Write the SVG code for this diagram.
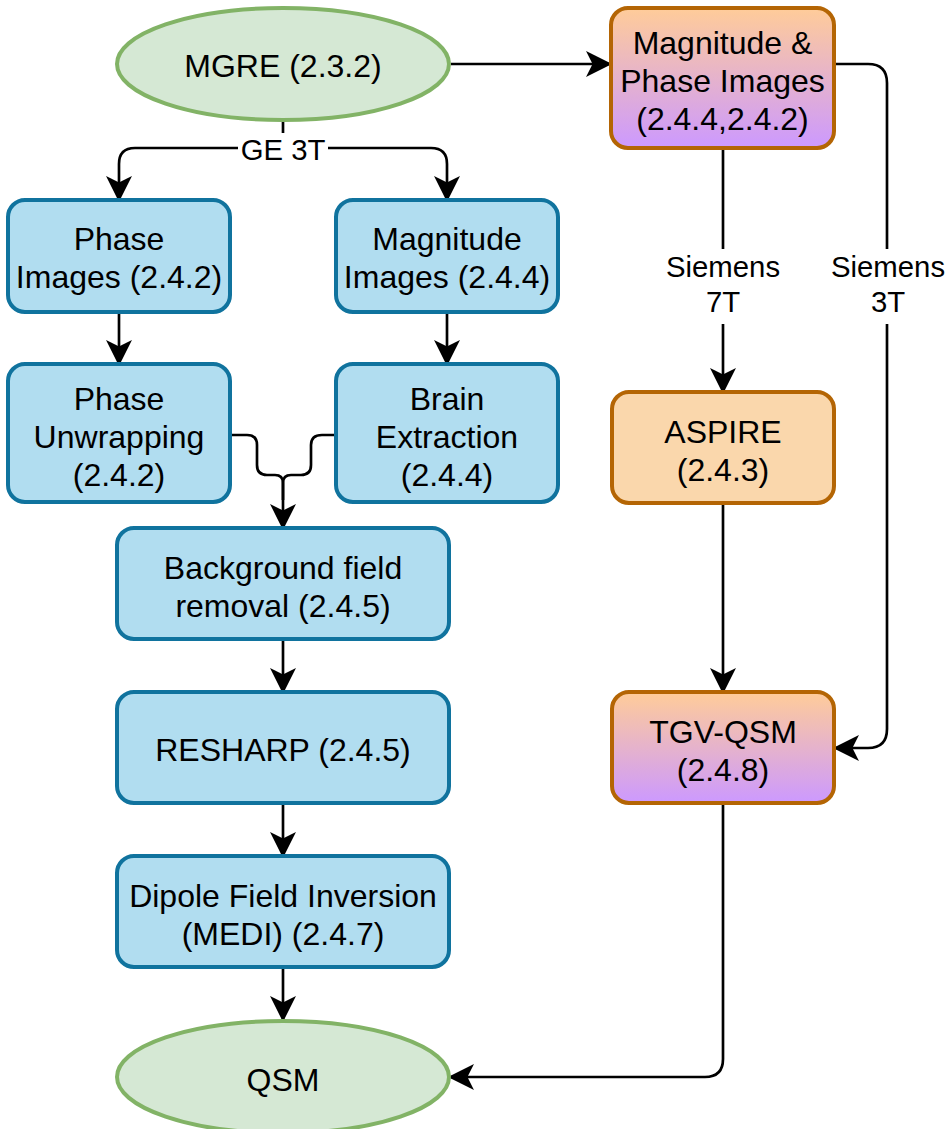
<svg xmlns="http://www.w3.org/2000/svg" width="952" height="1129" viewBox="0 0 952 1129">
  <defs>
    <linearGradient id="peachViolet" x1="0" y1="0" x2="0" y2="1">
      <stop offset="0" stop-color="#ffcc99"/>
      <stop offset="1" stop-color="#cc99ff"/>
    </linearGradient>
    <marker id="arrow" markerUnits="userSpaceOnUse" markerWidth="30" markerHeight="30" refX="22" refY="11" orient="auto" overflow="visible">
      <path d="M22,11 L2,1 L7,11 L2,21 Z" fill="#000" stroke="#000" stroke-width="2.67" stroke-linejoin="miter"/>
    </marker>
    <style>
      .blue { fill: #b1ddf0; stroke: #10739e; stroke-width: 4; }
      .green { fill: #d5e8d4; stroke: #82b366; stroke-width: 4; }
      .orange { fill: #fad7ac; stroke: #b46504; stroke-width: 4; }
      .grad { fill: url(#peachViolet); stroke: #b46504; stroke-width: 4; }
      .t { font-family: "Liberation Sans", Arial, sans-serif; font-size: 32px; fill: #000; text-anchor: middle; }
      .lbl { font-family: "Liberation Sans", Arial, sans-serif; font-size: 29.33px; fill: #000; text-anchor: middle; }
      .edge { fill: none; stroke: #000; stroke-width: 2.67; stroke-linejoin: round; }
      .arrowed { marker-end: url(#arrow); }
    </style>
  </defs>

  <rect width="952" height="1129" fill="#fff"/>

  <!-- connectors -->
  <g id="connectors">
    <path class="edge arrowed" d="M451,64 H609"/>
    <path class="edge arrowed" d="M283,122 V148 H135 Q119,148 119,164 V199"/>
    <path class="edge arrowed" d="M283,148 H431 Q447,148 447,164 V199"/>
    <path class="edge arrowed" d="M119,313 V363"/>
    <path class="edge arrowed" d="M447,313 V363"/>
    <path class="edge" d="M231,435 H247 Q257,435 257,445 V465 Q257,475 267,475 H275 Q283,475 283,483 V500"/>
    <path class="edge arrowed" d="M335,435 H322 Q311,435 311,445 V465 Q311,475 301,475 H291 Q283,475 283,483 V527"/>
    <path class="edge arrowed" d="M283,640 V691"/>
    <path class="edge arrowed" d="M283,804 V855"/>
    <path class="edge arrowed" d="M283,968 V1019"/>
    <path class="edge arrowed" d="M723,149 V391"/>
    <path class="edge arrowed" d="M835,64 H868 Q887,64 887,83 V729 Q887,748 868,748 H836"/>
    <path class="edge arrowed" d="M723,504 V691"/>
    <path class="edge arrowed" d="M723,804 V1059 Q723,1077 705,1077 H451"/>

    <!-- edge labels -->
    <rect x="238" y="133" width="90" height="32" fill="#fff"/>
    <text class="lbl" x="283" y="159.5">GE 3T</text>
    <rect x="662" y="249" width="122" height="75" fill="#fff"/>
    <text class="lbl" x="723" y="277">Siemens</text>
    <text class="lbl" x="723" y="312">7T</text>
    <rect x="828" y="249" width="120" height="75" fill="#fff"/>
    <text class="lbl" x="888" y="277">Siemens</text>
    <text class="lbl" x="888" y="312">3T</text>
  </g>

  <!-- nodes -->
  <g id="mgre">
    <ellipse class="green" cx="283" cy="64" rx="166" ry="56"/>
    <text class="t" x="283" y="77">MGRE (2.3.2)</text>
  </g>
  <g id="phase-images">
    <rect class="blue" x="8" y="200" width="222" height="112" rx="17"/>
    <text class="t" x="119" y="250">Phase</text>
    <text class="t" x="119" y="288">Images (2.4.2)</text>
  </g>
  <g id="magnitude-images">
    <rect class="blue" x="336" y="200" width="222" height="112" rx="17"/>
    <text class="t" x="447" y="250">Magnitude</text>
    <text class="t" x="447" y="288">Images (2.4.4)</text>
  </g>
  <g id="phase-unwrapping">
    <rect class="blue" x="8" y="364" width="222" height="138" rx="17"/>
    <text class="t" x="119" y="410">Phase</text>
    <text class="t" x="119" y="448">Unwrapping</text>
    <text class="t" x="119" y="486">(2.4.2)</text>
  </g>
  <g id="brain-extraction">
    <rect class="blue" x="336" y="364" width="222" height="138" rx="17"/>
    <text class="t" x="447" y="410">Brain</text>
    <text class="t" x="447" y="448">Extraction</text>
    <text class="t" x="447" y="486">(2.4.4)</text>
  </g>
  <g id="background-field-removal">
    <rect class="blue" x="117" y="528" width="332" height="111" rx="17"/>
    <text class="t" x="283" y="579">Background field</text>
    <text class="t" x="283" y="617">removal (2.4.5)</text>
  </g>
  <g id="resharp">
    <rect class="blue" x="117" y="692" width="332" height="111" rx="17"/>
    <text class="t" x="283" y="761">RESHARP (2.4.5)</text>
  </g>
  <g id="dipole-inversion">
    <rect class="blue" x="117" y="856" width="332" height="111" rx="17"/>
    <text class="t" x="283" y="907">Dipole Field Inversion</text>
    <text class="t" x="283" y="945">(MEDI) (2.4.7)</text>
  </g>
  <g id="qsm">
    <ellipse class="green" cx="283" cy="1077" rx="166" ry="56"/>
    <text class="t" x="283" y="1091">QSM</text>
  </g>
  <g id="magnitude-phase-images">
    <rect class="grad" x="611" y="8" width="223" height="140" rx="17"/>
    <text class="t" x="722.5" y="54">Magnitude &amp;</text>
    <text class="t" x="722.5" y="92">Phase Images</text>
    <text class="t" x="722.5" y="130">(2.4.4,2.4.2)</text>
  </g>
  <g id="aspire">
    <rect class="orange" x="612" y="392" width="222" height="111" rx="17"/>
    <text class="t" x="723" y="443">ASPIRE</text>
    <text class="t" x="723" y="481">(2.4.3)</text>
  </g>
  <g id="tgv-qsm">
    <rect class="grad" x="612" y="692" width="222" height="111" rx="17"/>
    <text class="t" x="723" y="743">TGV-QSM</text>
    <text class="t" x="723" y="781">(2.4.8)</text>
  </g>
</svg>
